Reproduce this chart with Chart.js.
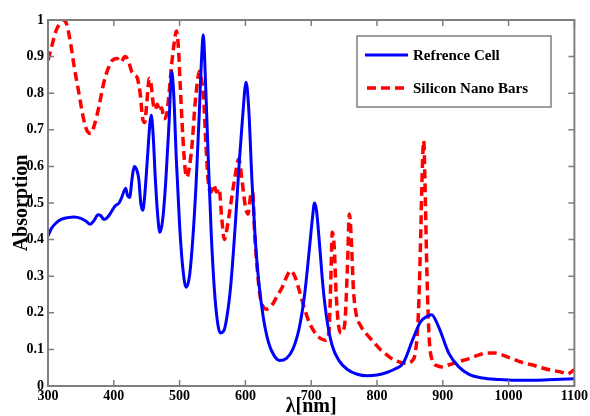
<!DOCTYPE html>
<html>
<head>
<meta charset="utf-8">
<title>Absorption spectra</title>
<script src="https://cdn.jsdelivr.net/npm/chart.js@4.4.1/dist/chart.umd.min.js"></script>
<style>
  body { margin: 0; background: #fff; }
  canvas { display: block; }
</style>
</head>
<body>
<canvas id="myChart" width="590" height="416"></canvas>
<script>
// reference cell spectrum
const refWavelength = [300, 305, 312, 320, 330, 340, 350, 358, 364, 370, 376, 380, 385, 390, 396, 402, 408, 412, 415, 418, 421, 424, 428, 431, 435, 438, 441, 444, 447, 451, 455, 457, 460, 463, 467, 470, 474, 479, 484, 488, 491, 495, 500, 505, 510, 515, 520, 525, 530, 533, 536, 539, 543, 548, 553, 558, 562, 567, 572, 578, 585, 591, 596, 601, 605, 610, 615, 620, 627, 635, 643, 652, 662, 672, 682, 690, 697, 702, 705, 708, 713, 718, 724, 732, 742, 755, 770, 785, 800, 815, 828, 840, 855, 866, 876, 883, 894, 909, 924, 940, 960, 985, 1010, 1040, 1070, 1100];
const refAbsorption = [0.41, 0.43, 0.445, 0.455, 0.46, 0.462, 0.458, 0.45, 0.442, 0.452, 0.468, 0.466, 0.455, 0.46, 0.475, 0.492, 0.5, 0.515, 0.53, 0.54, 0.52, 0.515, 0.57, 0.6, 0.59, 0.565, 0.5, 0.48, 0.52, 0.62, 0.72, 0.74, 0.68, 0.57, 0.46, 0.42, 0.45, 0.56, 0.72, 0.86, 0.8, 0.62, 0.44, 0.32, 0.27, 0.3, 0.4, 0.55, 0.75, 0.88, 0.96, 0.85, 0.65, 0.42, 0.26, 0.17, 0.145, 0.15, 0.19, 0.28, 0.45, 0.62, 0.74, 0.83, 0.76, 0.56, 0.4, 0.29, 0.19, 0.12, 0.085, 0.07, 0.075, 0.1, 0.16, 0.25, 0.37, 0.46, 0.5, 0.48, 0.38, 0.27, 0.18, 0.11, 0.07, 0.045, 0.032, 0.028, 0.03, 0.037, 0.047, 0.063, 0.13, 0.175, 0.19, 0.195, 0.16, 0.09, 0.053, 0.032, 0.022, 0.018, 0.016, 0.016, 0.018, 0.02];

// silicon nano bars spectrum
const nanoWavelength = [300, 306, 312, 318, 323, 328, 334, 340, 347, 354, 360, 365, 370, 377, 385, 392, 398, 405, 411, 417, 422, 427, 432, 436, 440, 444, 447, 450, 454, 457, 460, 463, 466, 470, 473, 476, 480, 484, 488, 492, 495, 498, 501, 505, 508, 511, 515, 519, 523, 527, 530, 533, 536, 540, 544, 548, 552, 556, 560, 564, 568, 572, 578, 584, 590, 595, 600, 604, 608, 611, 614, 618, 622, 626, 632, 640, 648, 656, 663, 669, 675, 682, 690, 698, 706, 714, 722, 727, 730, 732, 735, 738, 742, 746, 751, 755, 758, 761, 764, 768, 775, 785, 795, 805, 815, 825, 835, 845, 853, 859, 863, 866, 869, 871, 873, 876, 879, 884, 892, 900, 910, 925, 940, 955, 968, 978, 990, 1005, 1020, 1035, 1050, 1065, 1080, 1090, 1095, 1100];
const nanoAbsorption = [0.89, 0.93, 0.97, 0.99, 1.0, 0.99, 0.94, 0.87, 0.8, 0.73, 0.695, 0.69, 0.71, 0.76, 0.83, 0.87, 0.89, 0.895, 0.885, 0.9, 0.89, 0.86, 0.85, 0.84, 0.8, 0.73, 0.72, 0.77, 0.84, 0.82, 0.77, 0.755, 0.77, 0.75, 0.76, 0.73, 0.74, 0.8, 0.88, 0.94, 0.97, 0.93, 0.82, 0.68, 0.6, 0.57, 0.6, 0.66, 0.76, 0.83, 0.86, 0.84, 0.8, 0.66, 0.55, 0.53, 0.55, 0.53, 0.54, 0.46, 0.4, 0.43, 0.5, 0.57, 0.62, 0.56, 0.49, 0.47, 0.52, 0.53, 0.42, 0.32, 0.25, 0.22, 0.21, 0.22, 0.245, 0.27, 0.3, 0.315, 0.3, 0.26, 0.21, 0.17, 0.145, 0.13, 0.125, 0.15, 0.3, 0.42, 0.38, 0.25, 0.16, 0.145, 0.17, 0.32, 0.47, 0.4, 0.27, 0.2, 0.165, 0.14, 0.12, 0.1, 0.085, 0.072, 0.065, 0.062, 0.068, 0.1, 0.2, 0.38, 0.6, 0.67, 0.55, 0.3, 0.14, 0.07, 0.055, 0.052, 0.058, 0.067, 0.075, 0.085, 0.09, 0.09, 0.085, 0.075, 0.065, 0.058, 0.05, 0.043, 0.038, 0.033, 0.038, 0.045];

const seriesNames = ["Refrence Cell", "Silicon Nano Bars"];
const xTicks = [300, 400, 500, 600, 700, 800, 900, 1000, 1100];
const yTicks = [0, 0.1, 0.2, 0.3, 0.4, 0.5, 0.6, 0.7, 0.8, 0.9, 1];

const serif = '"Liberation Serif", "Times New Roman", serif';
const tickFont = { family: serif, weight: "bold", size: 14 };

function toPoints(xs, ys) {
  return xs.map((x, i) => ({ x: x, y: ys[i] }));
}

// box around the axes, inward ticks, legend and axis titles
const frame = {
  id: "frame",
  afterDatasetsDraw(chart) {
    const { ctx, chartArea: a, scales } = chart;
    ctx.save();
    ctx.strokeStyle = "#7f7f7f";
    ctx.lineWidth = 1.5;
    ctx.beginPath();
    xTicks.forEach((v) => {
      const x = scales.x.getPixelForValue(v);
      ctx.moveTo(x, a.bottom); ctx.lineTo(x, a.bottom - 6);
      ctx.moveTo(x, a.top); ctx.lineTo(x, a.top + 6);
    });
    yTicks.forEach((v) => {
      const y = scales.y.getPixelForValue(v);
      ctx.moveTo(a.left, y); ctx.lineTo(a.left + 6, y);
      ctx.moveTo(a.right, y); ctx.lineTo(a.right - 6, y);
    });
    ctx.stroke();
    ctx.lineWidth = 2;
    ctx.strokeRect(a.left, a.top, a.right - a.left, a.bottom - a.top);

    // legend
    const lx = 357, ly = 36, lw = 194, lh = 71;
    ctx.fillStyle = "#fff";
    ctx.fillRect(lx, ly, lw, lh);
    ctx.lineWidth = 1.5;
    ctx.strokeRect(lx, ly, lw, lh);
    ctx.font = "bold 15px " + serif;
    ctx.textBaseline = "middle";
    chart.data.datasets.forEach((ds, i) => {
      const y = ly + 19 + i * 33;
      ctx.strokeStyle = ds.borderColor;
      ctx.lineWidth = ds.borderWidth;
      ctx.setLineDash(ds.borderDash || []);
      ctx.beginPath();
      ctx.moveTo(lx + 8 + i * 2, y);
      ctx.lineTo(lx + 51 - i * 4, y);
      ctx.stroke();
      ctx.setLineDash([]);
      ctx.fillStyle = "#000";
      ctx.fillText(ds.label, lx + 56, y + 1);
    });

    // axis titles
    ctx.fillStyle = "#000";
    ctx.font = "bold 20px " + serif;
    ctx.textAlign = "center";
    ctx.textBaseline = "alphabetic";
    ctx.fillText("λ[nm]", (a.left + a.right) / 2, 412);
    ctx.translate(26.5, (a.top + a.bottom) / 2);
    ctx.rotate(-Math.PI / 2);
    ctx.fillText("Absorption", 0, 0);
    ctx.restore();
  }
};

const ctx = document.getElementById("myChart").getContext("2d");
const myChart = new Chart(ctx, {
  type: "line",
  data: {
    datasets: [
      {
        label: seriesNames[0],
        data: toPoints(refWavelength, refAbsorption),
        borderColor: "#0000ff",
        borderWidth: 3,
        pointRadius: 0,
        cubicInterpolationMode: "monotone",
      },
      {
        label: seriesNames[1],
        data: toPoints(nanoWavelength, nanoAbsorption),
        borderColor: "#ff0000",
        borderWidth: 3.5,
        borderDash: [9, 5],
        pointRadius: 0,
        cubicInterpolationMode: "monotone",
      },
    ],
  },
  options: {
    responsive: false,
    animation: false,
    layout: { padding: { top: 20, right: 13, left: 0, bottom: 0 } },
    plugins: { legend: { display: false }, tooltip: { enabled: false } },
    scales: {
      x: {
        type: "linear",
        min: 300,
        max: 1100,
        afterFit: (scale) => { scale.height = 30; },
        afterBuildTicks: (scale) => { scale.ticks = xTicks.map((v) => ({ value: v })); },
        grid: { display: false, drawTicks: false },
        border: { display: false },
        ticks: { padding: 2, color: "#000", font: tickFont, callback: (v) => String(v) },
      },
      y: {
        min: 0,
        max: 1,
        afterFit: (scale) => { scale.width = 48; },
        afterBuildTicks: (scale) => { scale.ticks = yTicks.map((v) => ({ value: v })); },
        grid: { display: false, drawTicks: false },
        border: { display: false },
        ticks: { padding: 4, color: "#000", font: tickFont, callback: (v) => String(Math.round(v * 10) / 10) },
      },
    },
  },
  plugins: [frame],
});
</script>
</body>
</html>
